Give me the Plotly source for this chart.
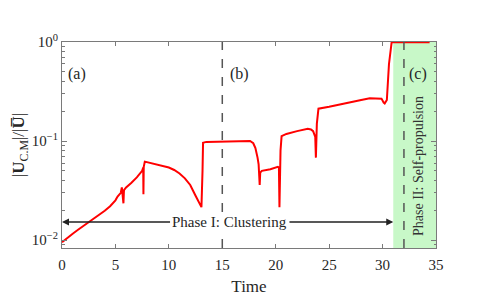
import plotly.graph_objects as go
import math

# ---- data ----
time = [0, 0.5, 1, 1.5, 2, 2.6, 3, 3.5, 4, 4.5, 5, 5.2, 5.5, 5.6, 5.75, 5.8, 6, 6.5, 7, 7.5,
        7.6, 7.62, 7.65, 7.75, 8, 9, 10, 10.5, 11, 11.5, 12, 12.5, 12.8, 13.05, 13.15, 13.2,
        13.5, 15, 17, 17.6, 17.9, 18.1, 18.3, 18.4, 18.5, 18.55, 18.7, 19.5, 20.2, 20.3,
        20.35, 20.45, 20.55, 21, 22, 23, 23.3, 23.5, 23.7, 23.76, 23.85, 24.0, 25, 26, 27,
        28, 28.8, 29.5, 29.9, 30.1, 30.2, 30.4, 30.6, 30.85, 34.4]
ucm = [0.0095, 0.0106, 0.0116, 0.0127, 0.0139, 0.0152, 0.0164, 0.018, 0.0198, 0.022, 0.0252,
       0.0275, 0.03, 0.034, 0.0235, 0.032, 0.034, 0.038, 0.043, 0.05,
       0.054, 0.029, 0.055, 0.062, 0.061, 0.058, 0.054, 0.051, 0.047, 0.042, 0.036, 0.028,
       0.024, 0.0215, 0.05, 0.096,
       0.098, 0.099, 0.1, 0.1, 0.095, 0.085, 0.068, 0.058, 0.036, 0.048, 0.05, 0.052, 0.055,
       0.054, 0.0215, 0.08, 0.112, 0.118, 0.126, 0.133, 0.131, 0.126, 0.11, 0.068, 0.15,
       0.212, 0.222, 0.235, 0.248, 0.26, 0.27, 0.27, 0.268, 0.245, 0.24, 0.26, 0.6, 0.995,
       0.995]

phase_split = 15
phase2_start = 31
phase2_line = 32
arrow_level = 0.0152
x_ticks = [0, 5, 10, 15, 20, 25, 30, 35]
y_ticks = [0.01, 0.1, 1]
y_tick_labels = ["10<sup>−2</sup>", "10<sup>−1</sup>", "10<sup>0</sup>"]

FONT = "Liberation Serif"
TXT = "#262626"
AX = "#7a7a7a"

fig = go.Figure()
fig.add_trace(go.Scatter(x=time, y=ucm, mode="lines",
                         line=dict(color="#ff0000", width=2), showlegend=False))

# green phase II region
fig.add_shape(type="rect", xref="x", yref="paper", x0=phase2_start, x1=35, y0=0, y1=1,
              fillcolor="#c8f8c8", line=dict(width=0), layer="below")
for xv in (phase_split, phase2_line):
    fig.add_shape(type="line", xref="x", yref="paper", x0=xv, x1=xv, y0=0, y1=1,
                  line=dict(color="#555555", width=1.5, dash="dash"))

ly = math.log10(arrow_level)
# arrows
fig.add_annotation(x=0, y=ly, ax=10.3, ay=ly, xref="x", yref="y", axref="x", ayref="y",
                   text=" ", showarrow=True, arrowhead=2, arrowsize=1, arrowwidth=1.4,
                   arrowcolor="#222222", font=dict(size=2))
fig.add_annotation(x=phase2_start, y=ly, ax=21.1, ay=ly, xref="x", yref="y", axref="x",
                   ayref="y", text=" ", showarrow=True, arrowhead=2, arrowsize=1,
                   arrowwidth=1.4, arrowcolor="#222222", font=dict(size=2))
fig.add_annotation(x=15.7, y=ly, xref="x", yref="y", text="Phase I: Clustering",
                   showarrow=False, bgcolor="white", borderpad=0,
                   font=dict(family=FONT, size=15, color=TXT))

fig.add_annotation(x=33.35, y=0.40, xref="x", yref="paper", text="Phase II: Self-propulsion",
                   textangle=-90, showarrow=False, font=dict(family=FONT, size=14, color="#333333"))

for lab, xv in (("(a)", 1.4), ("(b)", 16.65), ("(c)", 33.3)):
    fig.add_annotation(x=xv, y=0.898, xref="x", yref="paper", text=lab, showarrow=False,
                       font=dict(family=FONT, size=16, color=TXT))

fig.update_layout(
    width=482, height=302, margin=dict(l=54, r=54, t=34, b=62),
    paper_bgcolor="white", plot_bgcolor="white",
    font=dict(family=FONT, size=14, color=TXT),
    xaxis=dict(range=[0, 35], tickvals=x_ticks, ticks="inside", ticklen=4, tickcolor=AX,
               showline=True, linecolor=AX, linewidth=1, mirror="ticks", showgrid=False,
               zeroline=False, automargin=False, ticklabelstandoff=3,
               title=dict(text="Time", standoff=8),
               tickfont=dict(family=FONT, size=15, color=TXT)),
    yaxis=dict(type="log", range=[-2.08, 0], tickvals=y_ticks, ticktext=y_tick_labels,
               ticks="inside", ticklen=5, tickcolor=AX, showline=True, linecolor=AX,
               linewidth=1, mirror="ticks", showgrid=False, zeroline=False, automargin=False,
               minor=dict(ticks="inside", ticklen=2.5, tickcolor=AX, dtick="D1", showgrid=False),
               title=dict(text="|<b>U</b><sub>C.M</sub>|/|<b>U̅</b>|", standoff=2),
               tickfont=dict(family=FONT, size=15, color=TXT)),
)

fig.write_html("out.html")
